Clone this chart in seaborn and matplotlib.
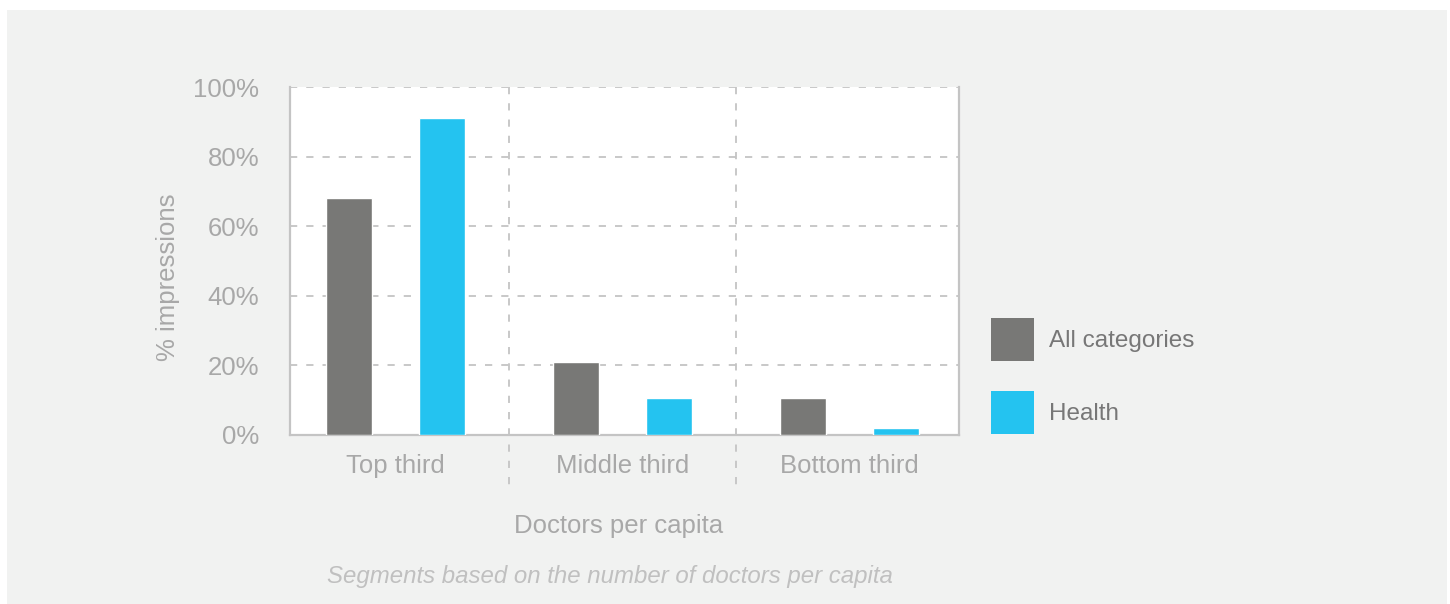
import matplotlib
matplotlib.use("Agg")
import matplotlib.pyplot as plt
import seaborn as sns
import pandas as pd
from matplotlib.patches import Rectangle

categories = ["Top third", "Middle third", "Bottom third"]
series_names = ["All categories", "Health"]
all_categories = [68.1, 21.0, 10.6]
health = [91.1, 10.6, 2.0]
y_ticks = [0, 20, 40, 60, 80, 100]
y_tick_labels = ["0%", "20%", "40%", "60%", "80%", "100%"]

df = pd.DataFrame({
    "segment": categories * 2,
    "series": [series_names[0]] * 3 + [series_names[1]] * 3,
    "value": all_categories + health,
})

sns.set_theme(style="white")
plt.rcParams["font.family"] = ["Liberation Sans", "DejaVu Sans"]

GRAY = "#787876"
CYAN = "#24c3f0"
BG = "#f1f2f1"
TXT = "#a8a8a8"
LINE = "#c4c4c4"
FS = 18.5
LFS = 17.5

fig = plt.figure(figsize=(14.5, 6.04), dpi=100, facecolor="white")
fig.patches.append(Rectangle((7 / 1450, 0), 1440 / 1450, 594 / 604,
                             transform=fig.transFigure, facecolor=BG,
                             edgecolor="none", zorder=-10))
ax = fig.add_axes([290 / 1450, (604 - 435) / 604, 669 / 1450, 348 / 604])
ax.set_facecolor("white")

sns.barplot(data=df, x="segment", y="value", hue="series",
            palette=[GRAY, CYAN], width=0.82, gap=0.5, ax=ax,
            saturation=1, zorder=3, legend=True)

ax.set_xlim(-0.465, 2.482)
ax.set_ylim(0, 100)
ax.set_yticks(y_ticks)
ax.set_yticklabels(y_tick_labels)
ax.tick_params(axis="both", length=0, labelsize=FS, colors=TXT)
ax.tick_params(axis="y", pad=22)
ax.tick_params(axis="x", pad=14)

for y in y_ticks[1:]:
    ax.axhline(y, color=LINE, lw=1.3, ls=(0, (4, 5)), zorder=1)

for x in [0.5, 1.5]:
    ax.plot([x, x], [1.0, -0.158], transform=ax.get_xaxis_transform(),
            color=LINE, lw=1.3, ls=(0, (4, 5)), clip_on=False, zorder=1)

for side in ["left", "bottom", "right"]:
    ax.spines[side].set_color(LINE)
    ax.spines[side].set_linewidth(1.6)
ax.spines["top"].set_visible(False)

ax.set_xlabel("")
ax.set_ylabel("% impressions", fontsize=FS, color=TXT)
ax.yaxis.set_label_coords(-0.164, 0.454)

fig.text(619 / 1450, 1 - 526 / 604, "Doctors per capita", fontsize=FS,
         color=TXT, ha="center", va="center")
fig.text(610 / 1450, 1 - 576 / 604,
         "Segments based on the number of doctors per capita",
         fontsize=17.3, color="#c0c0c0", ha="center", va="center",
         style="italic")

handles, labels = ax.get_legend_handles_labels()
leg = ax.legend(handles, labels, loc="center left",
                bbox_to_anchor=(991 / 1450, 1 - 376 / 604),
                bbox_transform=fig.transFigure, frameon=False,
                fontsize=LFS, handlelength=1.77, handleheight=2.35,
                handletextpad=0.62, labelspacing=1.23, borderaxespad=0,
                borderpad=0)
for t in leg.get_texts():
    t.set_color("#777777")
for h in leg.legend_handles:
    h.set_edgecolor("none")

fig.savefig("out.png", dpi=100, facecolor="white")
